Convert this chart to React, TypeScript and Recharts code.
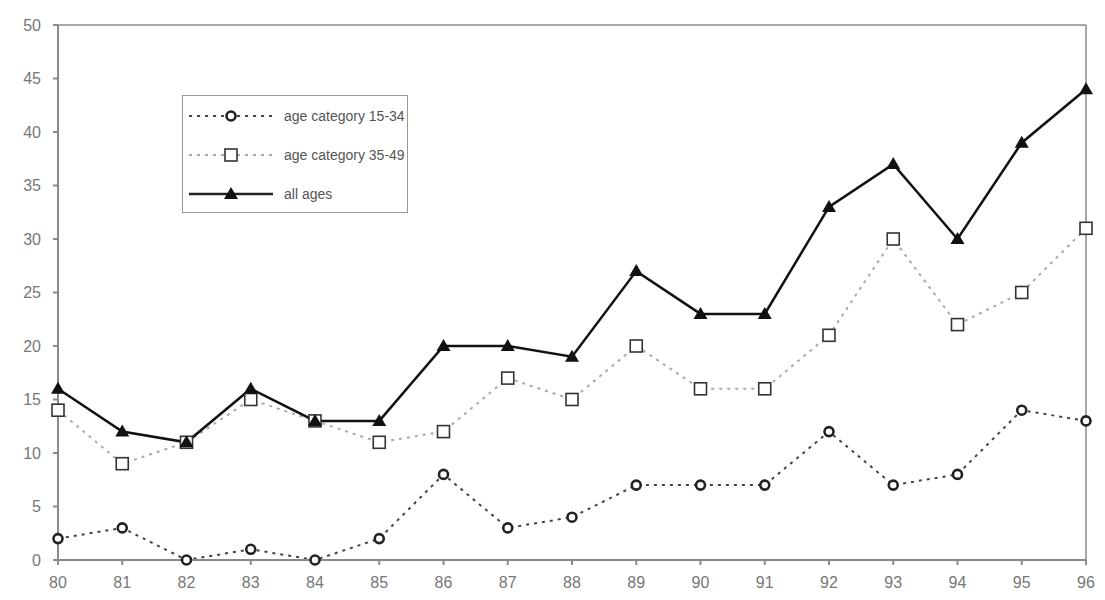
import React from "react";
import {
  LineChart,
  Line,
  XAxis,
  YAxis,
  ReferenceLine,
} from "recharts";

const years = [80, 81, 82, 83, 84, 85, 86, 87, 88, 89, 90, 91, 92, 93, 94, 95, 96];
const age1534 = [2, 3, 0, 1, 0, 2, 8, 3, 4, 7, 7, 7, 12, 7, 8, 14, 13];
const age3549 = [14, 9, 11, 15, 13, 11, 12, 17, 15, 20, 16, 16, 21, 30, 22, 25, 31];
const allAges = [16, 12, 11, 16, 13, 13, 20, 20, 19, 27, 23, 23, 33, 37, 30, 39, 44];
const yTicks = [0, 5, 10, 15, 20, 25, 30, 35, 40, 45, 50];

const data = years.map((y, i) => ({
  year: y,
  a: age1534[i],
  b: age3549[i],
  c: allAges[i],
}));

const FONT = "'Liberation Sans', Arial, sans-serif";
const AXIS = "#8a8a8a";

const Circle = (props: any) => {
  const { cx, cy, key } = props;
  if (cx == null || cy == null) return null;
  return <circle key={key} cx={cx} cy={cy} r={4.5} fill="#fff" stroke="#222" strokeWidth={2.6} />;
};

const Square = (props: any) => {
  const { cx, cy, key } = props;
  if (cx == null || cy == null) return null;
  return <rect key={key} x={cx - 6} y={cy - 6} width={12} height={12} fill="#fff" stroke="#333" strokeWidth={1.6} />;
};

const Triangle = (props: any) => {
  const { cx, cy, key } = props;
  if (cx == null || cy == null) return null;
  return (
    <path
      key={key}
      d={`M${cx},${cy - 7} L${cx + 7},${cy + 5} L${cx - 7},${cy + 5} Z`}
      fill="#111"
    />
  );
};

const legendRows = [
  { label: "age category 15-34", stroke: "#444", dash: "3 5", width: 2, marker: "circle" },
  { label: "age category 35-49", stroke: "#aaa", dash: "3 5", width: 2, marker: "square" },
  { label: "all ages", stroke: "#222", dash: undefined, width: 2.5, marker: "triangle" },
];

const LegendBox = () => (
  <div
    style={{
      position: "absolute",
      top: 87,
      left: 174,
      width: 226,
      height: 118,
      border: "1.5px solid #999",
      background: "#fff",
      boxSizing: "border-box",
      fontFamily: FONT,
      fontSize: 14,
      color: "#555",
      paddingTop: 0,
    }}
  >
    {legendRows.map((r) => (
      <div key={r.label} style={{ display: "flex", alignItems: "center", height: 39 }}>
        <svg width={97} height={20} style={{ marginLeft: 4 }}>
          <line x1={2} y1={10} x2={86} y2={10} stroke={r.stroke} strokeWidth={r.width} strokeDasharray={r.dash} />
          {r.marker === "circle" && <Circle cx={44} cy={10} />}
          {r.marker === "square" && <Square cx={44} cy={10} />}
          {r.marker === "triangle" && <Triangle cx={44} cy={10} />}
        </svg>
        <span style={{ whiteSpace: "nowrap" }}>{r.label}</span>
      </div>
    ))}
  </div>
);

export default function App() {
  return (
    <div style={{ background: "#fff", position: "relative", width: 1097, height: 592 }}>
      <LineChart
        width={1097}
        height={592}
        data={data}
        margin={{ top: 17, right: 19, left: 0, bottom: 0 }}
      >
        <XAxis
          dataKey="year"
          type="number"
          domain={[80, 96]}
          ticks={years}
          interval={0}
          stroke={AXIS}
          strokeWidth={2}
          tickSize={5}
          tick={{ fill: "#777", fontSize: 16, fontFamily: FONT }}
          tickMargin={12}
          height={40}
        />
        <YAxis
          domain={[0, 50]}
          ticks={yTicks}
          interval={0}
          stroke={AXIS}
          strokeWidth={2}
          tickSize={5}
          tick={{ fill: "#777", fontSize: 16, fontFamily: FONT }}
          tickMargin={12}
          width={50}
        />
        <ReferenceLine y={50} stroke={AXIS} strokeWidth={1.5} />
        <ReferenceLine x={96} stroke={AXIS} strokeWidth={1.5} />
        <Line
          dataKey="a"
          name="age category 15-34"
          stroke="#444"
          strokeWidth={2}
          strokeDasharray="3 5"
          dot={Circle}
          isAnimationActive={false}
        />
        <Line
          dataKey="b"
          name="age category 35-49"
          stroke="#aaa"
          strokeWidth={2}
          strokeDasharray="3 5"
          dot={Square}
          isAnimationActive={false}
        />
        <Line
          dataKey="c"
          name="all ages"
          stroke="#111"
          strokeWidth={2.5}
          dot={Triangle}
          isAnimationActive={false}
        />
      </LineChart>
      <LegendBox />
    </div>
  );
}
